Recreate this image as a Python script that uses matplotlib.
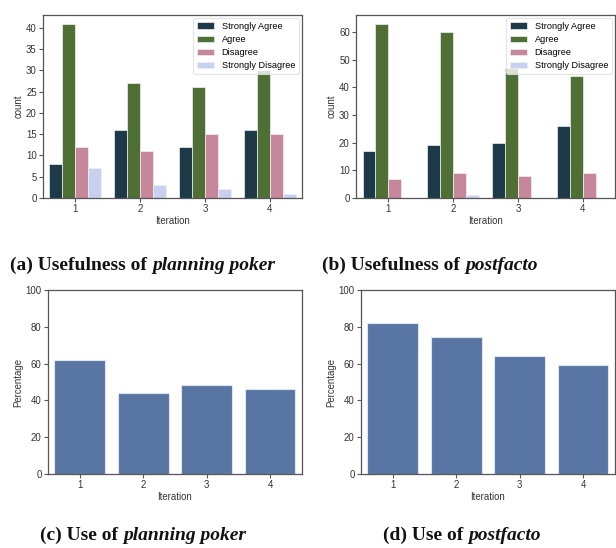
import matplotlib
matplotlib.use("Agg")
import matplotlib.pyplot as plt
from matplotlib.text import Annotation
import numpy as np

iterations = ["1", "2", "3", "4"]
responses = ["Strongly Agree", "Agree", "Disagree", "Strongly Disagree"]
palette = ["#1e3a49", "#4f6f34", "#c7879a", "#c8d0f0"]

poker_counts = {
    "Strongly Agree": [8, 16, 12, 16],
    "Agree": [41, 27, 26, 30],
    "Disagree": [12, 11, 15, 15],
    "Strongly Disagree": [7, 3, 2, 1],
}
postfacto_counts = {
    "Strongly Agree": [17, 19, 20, 26],
    "Agree": [63, 60, 47, 44],
    "Disagree": [7, 9, 8, 9],
    "Strongly Disagree": [0, 1, 0, 0],
}
poker_use = [62, 44.2, 48.2, 46.3]
postfacto_use = [82.2, 74.6, 63.9, 59.4]

bar_blue = "#5875a4"
spine_gray = "#555555"
text_gray = "#333333"
FS = 6.9

plt.rcParams["font.family"] = ["Liberation Sans", "DejaVu Sans"]
plt.rcParams["font.size"] = FS

fig = plt.figure(figsize=(6.16, 5.48), dpi=100)

ax_a = fig.add_axes([0.0698, 0.6387, 0.4205, 0.334])
ax_b = fig.add_axes([0.578, 0.6387, 0.4205, 0.334])
ax_c = fig.add_axes([0.0779, 0.135, 0.412, 0.3358])
ax_d = fig.add_axes([0.586, 0.135, 0.412, 0.3358])


def style(ax):
    for s in ax.spines.values():
        s.set_color(spine_gray)
        s.set_linewidth(0.9)
    ax.tick_params(length=3, width=0.8, color=spine_gray, labelsize=FS,
                   labelcolor=text_gray, pad=1.5)
    ax.set_xlim(-0.5, 3.5)
    ax.set_xticks(np.arange(len(iterations)))
    ax.set_xticklabels(iterations)
    ax.set_xlabel("Iteration", fontsize=FS, color=text_gray, labelpad=1.5)


def grouped(ax, counts):
    x = np.arange(len(iterations))
    w = 0.8 / len(responses)
    for i, (resp, col) in enumerate(zip(responses, palette)):
        ax.bar(x - 0.4 + w * (i + 0.5), counts[resp], width=w, color=col,
               edgecolor="#eef0f4", linewidth=0.5, label=resp)
    style(ax)
    ax.set_ylabel("count", fontsize=FS, color=text_gray, labelpad=2)
    leg = ax.legend(loc="upper right", fontsize=6.6, frameon=True,
                    handlelength=1.9, handleheight=0.7, borderpad=0.4,
                    labelspacing=0.45, handletextpad=0.8, fancybox=True,
                    borderaxespad=0.35)
    leg.get_frame().set_edgecolor("#dddddd")
    leg.get_frame().set_linewidth(0.8)


def single(ax, values):
    x = np.arange(len(iterations))
    ax.bar(x, values, width=0.8, color=bar_blue, edgecolor="#dfe5f0",
           linewidth=0.8)
    style(ax)
    ax.set_ylim(0, 100)
    ax.set_yticks(np.arange(0, 101, 20))
    ax.set_ylabel("Percentage", fontsize=FS, color=text_gray, labelpad=2)


grouped(ax_a, poker_counts)
grouped(ax_b, postfacto_counts)
ax_a.set_yticks(np.arange(0, 41, 5))
ax_b.set_yticks(np.arange(0, 61, 10))
single(ax_c, poker_use)
single(ax_d, postfacto_use)

CAP = 14


def caption(x_px, bottom_px, plain, ital):
    t = fig.text(x_px / 616, 1 - bottom_px / 548, plain, fontsize=CAP,
                 fontweight="bold", family="Liberation Serif", ha="left",
                 va="bottom", color="#111111")
    fig.add_artist(Annotation(
        ital, xy=(1, 0), xycoords=t, xytext=(3.8, 0),
        textcoords="offset points", fontsize=CAP, fontweight="bold",
        style="italic", family="Liberation Serif", ha="left", va="bottom",
        color="#111111"))


caption(10, 274, "(a) Usefulness of", "planning poker")
caption(322, 274, "(b) Usefulness of", "postfacto")
caption(40, 544, "(c) Use of", "planning poker")
caption(383, 544, "(d) Use of", "postfacto")

fig.savefig("out.png", dpi=100)
